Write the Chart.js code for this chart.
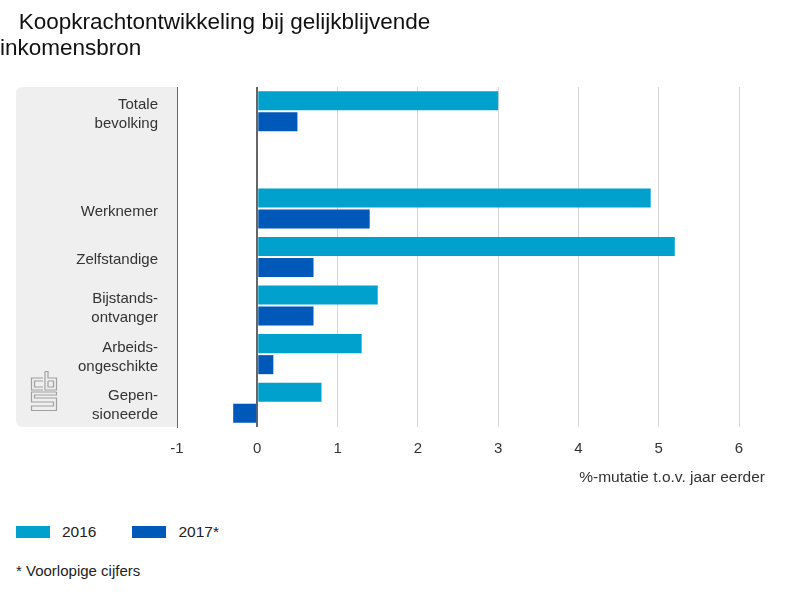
<!DOCTYPE html>
<html>
<head>
<meta charset="utf-8">
<script src="https://cdn.jsdelivr.net/npm/chart.js@4/dist/chart.umd.min.js"></script>
<style>
  html, body { margin: 0; padding: 0; background: #fff; }
  body { font-family: "Liberation Sans", Arial, sans-serif; color: #222; }
  #wrap { position: relative; width: 800px; height: 600px; }
  #grafiek { position: absolute; left: 0; top: 0; width: 800px; height: 500px; }
  #legenda { position: absolute; left: 16px; top: 522px; display: flex; font-size: 15.5px; }
  .item { display: flex; align-items: center; height: 20px; }
  .blok { width: 34px; height: 12px; margin-right: 12px; }
  #voetnoot { position: absolute; left: 16px; top: 562px; font-size: 15px; }
</style>
</head>
<body>
<div id="wrap">
  <div id="grafiek"><canvas id="koopkracht"></canvas></div>
  <div id="legenda"></div>
  <div id="voetnoot"></div>
</div>
<script>
// gegevens
const titel = ['   Koopkrachtontwikkeling bij gelijkblijvende', 'inkomensbron'];
const categorieen = [['Totale', 'bevolking'], '', 'Werknemer', 'Zelfstandige', ['Bijstands-', 'ontvanger'], ['Arbeids-', 'ongeschikte'], ['Gepen-', 'sioneerde']];
const waarden2016 = [3.0, null, 4.9, 5.2, 1.5, 1.3, 0.8];
const waarden2017 = [0.5, null, 1.4, 0.7, 0.7, 0.2, -0.3];
const reeksNamen = ['2016', '2017*'];
const asTitel = '%-mutatie t.o.v. jaar eerder';
const voetnoot = '* Voorlopige cijfers';

const kleuren = ['#00a1cd', '#0058b8'];
const lettertype = '"Liberation Sans", Arial, sans-serif';

// grijs vlak achter de labels + cbs logo + astitel
const achtergrond = {
  id: 'achtergrond',
  beforeDraw(chart) {
    const { ctx, chartArea } = chart;
    const x0 = 16, x1 = chartArea.left, r = 7;
    ctx.save();
    ctx.fillStyle = '#efefef';
    ctx.beginPath();
    ctx.moveTo(x1, chartArea.top);
    ctx.lineTo(x0 + r, chartArea.top);
    ctx.quadraticCurveTo(x0, chartArea.top, x0, chartArea.top + r);
    ctx.lineTo(x0, chartArea.bottom - r);
    ctx.quadraticCurveTo(x0, chartArea.bottom, x0 + r, chartArea.bottom);
    ctx.lineTo(x1, chartArea.bottom);
    ctx.closePath();
    ctx.fill();
    ctx.restore();
  },
  afterDraw(chart) {
    const { ctx, chartArea } = chart;
    ctx.save();
    // astitel rechts onder de x-as
    ctx.font = '15.5px ' + lettertype;
    ctx.fillStyle = '#333';
    ctx.textAlign = 'right';
    ctx.textBaseline = 'middle';
    ctx.fillText(asTitel, chartArea.right + 26, chartArea.bottom + 51);

    // logo (ruwe benadering)
    const lx = 31, ly = chartArea.bottom - 56;
    ctx.strokeStyle = '#a0a0a0';
    ctx.lineWidth = 1.2;
    const lijn = pts => {
      ctx.beginPath();
      ctx.moveTo(lx + pts[0][0], ly + pts[0][1]);
      for (let i = 1; i < pts.length; i++) ctx.lineTo(lx + pts[i][0], ly + pts[i][1]);
      ctx.stroke();
    };
    // c
    lijn([[12, 7], [0.5, 7], [0.5, 19], [12, 19]]);
    lijn([[12, 10], [3.5, 10], [3.5, 16], [12, 16]]);
    // b
    lijn([[14, 0.5], [14, 19], [25.5, 19], [25.5, 7], [17, 7], [17, 0.5], [14, 0.5]]);
    lijn([[17, 10], [22.5, 10], [22.5, 16], [17, 16], [17, 10]]);
    // s
    lijn([[25.5, 21], [0.5, 21], [0.5, 31], [22.5, 31], [22.5, 35], [0.5, 35], [0.5, 39.5], [25.5, 39.5], [25.5, 27], [3.5, 27], [3.5, 24], [25.5, 24], [25.5, 21]]);
    ctx.restore();
  }
};

const ctx = document.getElementById('koopkracht').getContext('2d');
const grafiek = new Chart(ctx, {
  type: 'bar',
  data: {
    labels: categorieen,
    datasets: [
      { label: reeksNamen[0], data: waarden2016, backgroundColor: kleuren[0] },
      { label: reeksNamen[1], data: waarden2017, backgroundColor: kleuren[1] }
    ]
  },
  options: {
    indexAxis: 'y',
    responsive: true,
    maintainAspectRatio: false,
    animation: false,
    categoryPercentage: 0.866,
    barPercentage: 0.905,
    layout: { padding: { left: 0, right: 61, top: 0, bottom: 0 } },
    scales: {
      x: {
        min: -1,
        max: 6,
        ticks: { stepSize: 1, padding: 13, color: '#333', font: { family: lettertype, size: 15 } },
        grid: {
          drawTicks: false,
          color: c => (c.tick && c.tick.value <= 0) ? '#666' : '#d6d6d6',
          lineWidth: c => (c.tick && c.tick.value === 0) ? 2 : 1
        },
        border: { display: false },
        afterFit: s => { s.height = 73; }
      },
      y: {
        ticks: { padding: 19, labelOffset: 3, color: '#333', font: { family: lettertype, size: 15, lineHeight: 1.25 } },
        grid: { display: false, drawTicks: false },
        border: { display: true, color: '#666', width: 1 },
        afterFit: s => { s.width = 177; }
      }
    },
    plugins: {
      legend: { display: false },
      tooltip: { enabled: false },
      title: {
        display: true,
        text: titel,
        align: 'start',
        color: '#111',
        font: { family: lettertype, size: 22.5, weight: 'normal', lineHeight: 1.156 },
        padding: { top: 10, bottom: 25 }
      }
    }
  },
  plugins: [achtergrond]
});

// legenda en voetnoot
const legenda = document.getElementById('legenda');
grafiek.data.datasets.forEach((ds, i) => {
  const item = document.createElement('div');
  item.className = 'item';
  item.style.marginRight = i === 0 ? '36px' : '0';
  item.innerHTML = '<span class="blok" style="background:' + ds.backgroundColor + '"></span><span>' + ds.label + '</span>';
  legenda.appendChild(item);
});
document.getElementById('voetnoot').textContent = voetnoot;
</script>
</body>
</html>
